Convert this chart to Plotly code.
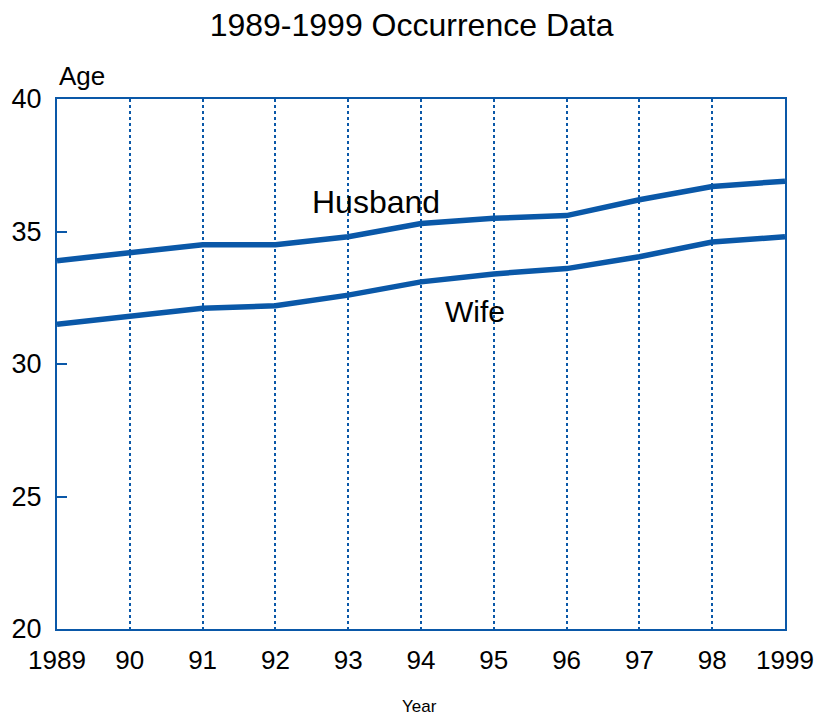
import plotly.graph_objects as go

years = [1989, 1990, 1991, 1992, 1993, 1994, 1995, 1996, 1997, 1998, 1999]
tick_labels = ["1989", "90", "91", "92", "93", "94", "95", "96", "97", "98", "1999"]
husband = [33.9, 34.2, 34.5, 34.5, 34.8, 35.3, 35.5, 35.6, 36.2, 36.7, 36.9]
wife = [31.5, 31.8, 32.1, 32.2, 32.6, 33.1, 33.4, 33.6, 34.05, 34.6, 34.8]

BLUE = "#0A58A8"
FONT = "Liberation Sans Narrow, Liberation Sans, Arial, sans-serif"

fig = go.Figure()
fig.add_trace(go.Scatter(x=years, y=husband, mode="lines", name="Husband",
                         line=dict(color=BLUE, width=5.5), showlegend=False))
fig.add_trace(go.Scatter(x=years, y=wife, mode="lines", name="Wife",
                         line=dict(color=BLUE, width=5.5), showlegend=False))

fig.update_layout(
    width=815, height=717,
    margin=dict(l=57, r=30, t=99, b=88, autoexpand=False),
    paper_bgcolor="white", plot_bgcolor="white",
    font=dict(family=FONT, color="black", size=26),
    title=dict(text="1989-1999 Occurrence Data", x=0.505, xanchor="center",
               y=0.965, yanchor="middle", font=dict(size=32, family=FONT)),
    xaxis=dict(range=[1989, 1999], tickvals=years, ticktext=tick_labels,
               showgrid=True, gridcolor=BLUE, gridwidth=1.5, griddash="dot",
               showline=True, linecolor=BLUE, linewidth=2, mirror=True,
               ticks="outside", ticklen=7, tickcolor="rgba(0,0,0,0)",
               zeroline=False, tickfont=dict(size=26), automargin=False,
               ticklabeloverflow="allow"),
    yaxis=dict(range=[20, 40], tickvals=[20, 25, 30, 35, 40],
               showgrid=False, showline=True, linecolor=BLUE, linewidth=2,
               mirror=True, ticks="inside", ticklen=10, tickcolor=BLUE,
               tickwidth=1.5, zeroline=False, tickfont=dict(size=27),
               ticklabelstandoff=8,
               automargin=False, ticklabeloverflow="allow"),
    annotations=[
        dict(text="Husband", x=1993.38, y=36.13, xref="x", yref="y",
             showarrow=False, font=dict(size=32)),
        dict(text="Wife", x=1994.74, y=31.98, xref="x", yref="y",
             showarrow=False, font=dict(size=30)),
        dict(text="Age", x=0, y=1.0, xref="paper", yref="paper",
             xanchor="left", yanchor="bottom", yshift=6, showarrow=False,
             font=dict(size=26)),
        dict(text="Year", x=0.4986, y=-0.147, xref="paper", yref="paper",
             xanchor="center", yanchor="middle", showarrow=False,
             font=dict(size=17)),
    ],
)

fig.write_html(
    "out.html",
    config={"displayModeBar": False},
    post_script="document.documentElement.style.overflow='hidden';"
                "document.body.style.overflow='hidden';"
                "document.body.style.margin='0';",
)
